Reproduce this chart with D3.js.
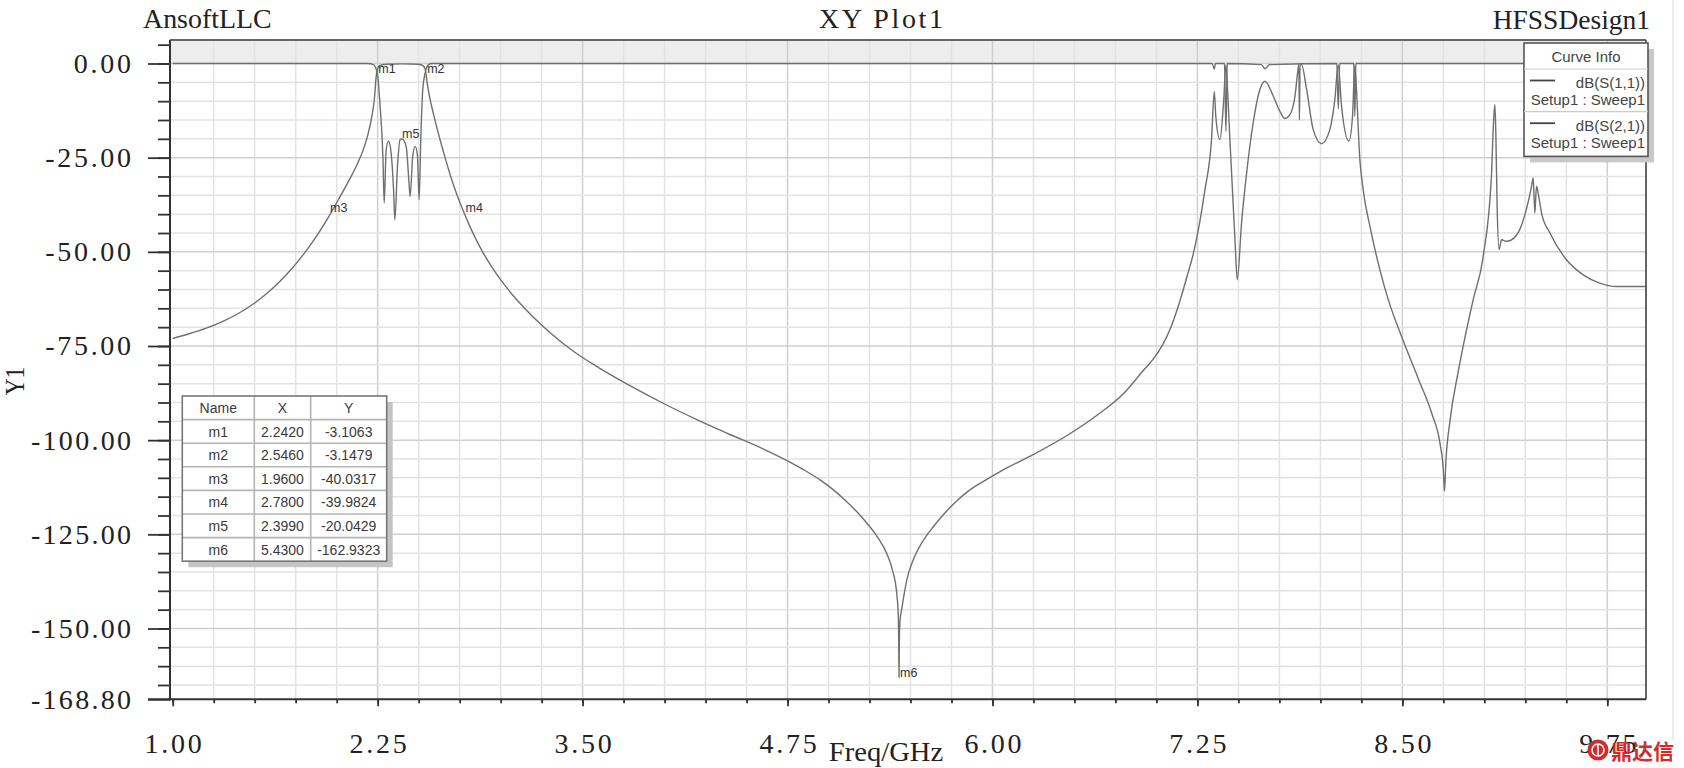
<!DOCTYPE html>
<html><head><meta charset="utf-8">
<script src="https://cdn.jsdelivr.net/npm/d3@7"></script>
<style>body{margin:0;background:#fff;} svg{display:block;}</style>
</head><body>
<svg id="c" width="1684" height="768"></svg>
<script>
// ---------------- data ----------------
const s21Freq = [1.00,1.10,1.20,1.30,1.40,1.50,1.60,1.70,1.80,1.85,1.90,1.96,2.02,2.082,2.13,2.163,2.19,2.215,2.23,2.242,2.25,2.26,2.30,2.40,2.50,2.53,2.54,2.546,2.555,2.57,2.59,2.62,2.66,2.70,2.74,2.78,2.83,2.88,2.94,3.00,3.10,3.20,3.30,3.45,3.60,3.80,4.00,4.20,4.40,4.60,4.75,4.85,4.95,5.03,5.10,5.17,5.233,5.30,5.355,5.39,5.416,5.426,5.428,5.430,5.432,5.436,5.446,5.477,5.51,5.538,5.60,5.639,5.70,5.761,5.85,5.95,6.06,6.25,6.45,6.65,6.80,6.92,6.98,7.04,7.09,7.14,7.19,7.225,7.296,7.336,7.353,7.362,7.387,7.41,7.424,7.435,7.448,7.479,7.493,7.519,7.550,7.590,7.631,7.662,7.713,7.753,7.784,7.814,7.845,7.861,7.869,7.872,7.876,7.885,7.916,7.956,8.007,8.058,8.088,8.109,8.129,8.174,8.196,8.210,8.225,8.237,8.261,8.302,8.363,8.414,8.50,8.60,8.68,8.73,8.75,8.757,8.765,8.79,8.84,8.89,8.932,8.993,9.044,9.054,9.064,9.070,9.078,9.090,9.105,9.135,9.166,9.216,9.261,9.288,9.298,9.308,9.318,9.328,9.349,9.40,9.501,9.603,9.704,9.806,10.0];
const s21dB = [-73.0,-71.76,-70.34,-68.59,-66.37,-63.58,-60.08,-55.77,-50.55,-47.55,-44.29,-40.03,-35.4,-30.5,-26.3,-22.8,-19.0,-14.0,-9.5,-3.1,-1.4,-0.6,-0.2,-0.1,-0.2,-0.7,-1.5,-3.15,-6.0,-9.5,-13.3,-18.5,-24.8,-30.6,-35.6,-39.98,-44.9,-49.2,-53.6,-57.4,-62.8,-67.4,-71.4,-76.6,-80.8,-85.8,-90.4,-94.6,-98.5,-102.3,-105.5,-107.9,-110.6,-113.2,-115.9,-118.9,-122.0,-125.8,-130.1,-134.5,-140.7,-147.0,-153.0,-162.93,-153.0,-148.0,-145.0,-137.2,-132.5,-129.7,-125.2,-123.0,-119.8,-117.0,-113.6,-110.8,-108.0,-103.8,-98.9,-93.0,-87.6,-81.5,-78.5,-74.5,-69.8,-63.5,-56.0,-50.5,-33.5,-20.2,-7.4,-14.0,-20.2,-10.0,-0.3,-8.0,-20.2,-46.8,-57.4,-42.4,-29.1,-15.8,-6.9,-4.7,-8.7,-12.7,-14.6,-13.6,-8.7,-2.5,-0.2,-15.0,-0.3,-0.3,-6.9,-17.5,-21.3,-17.5,-9.6,-0.3,-11.3,-20.6,-14.0,-0.3,-11.3,-22.9,-33.5,-43.2,-54.8,-62.7,-73.0,-84.0,-93.0,-101.0,-108.0,-113.5,-106.0,-95.0,-82.0,-71.0,-62.7,-51.2,-29.1,-17.5,-10.9,-18.4,-37.9,-49.4,-46.8,-47.2,-46.8,-44.1,-37.9,-32.6,-30.4,-39.7,-32.6,-34.4,-39.7,-45.0,-52.1,-56.1,-58.3,-59.2,-59.2];

const s11Freq = [1.00,2.19,2.225,2.249,2.265,2.282,2.290,2.302,2.316,2.330,2.347,2.355,2.371,2.387,2.399,2.424,2.440,2.448,2.464,2.479,2.493,2.503,2.513,2.525,2.540,2.560,2.580,7.34,7.353,7.36,7.415,7.424,7.432,7.64,7.662,7.69,8.100,8.109,8.118,8.204,8.210,8.216,10.0];
const s11dB = [0,0,-0.3,-2.9,-11.3,-24.6,-37.0,-22.9,-20.6,-22.9,-33.5,-41.5,-27.3,-20.2,-20.04,-22.0,-30.8,-35.3,-24.6,-22.0,-24.6,-36.2,-20.2,-6.9,-2.5,-0.3,0,0,-1.5,0,0,-18.0,0,-0.3,-1.4,-0.3,0,-12.0,0,0,-14.0,0,0];

const xTickValues = [1.00,2.25,3.50,4.75,6.00,7.25,8.50,9.75];
const xTickLabels = ["1.00","2.25","3.50","4.75","6.00","7.25","8.50","9.75"];
const yTickValues = [0,-25,-50,-75,-100,-125,-150,-168.8];
const yTickLabels = ["0.00","-25.00","-50.00","-75.00","-100.00","-125.00","-150.00","-168.80"];

const markerNames = ["m1","m2","m3","m4","m5","m6"];
const markerX = [2.2420,2.5460,1.9600,2.7800,2.3990,5.4300];
const markerY = [-3.1063,-3.1479,-40.0317,-39.9824,-20.0429,-162.9323];
const markerXText = ["2.2420","2.5460","1.9600","2.7800","2.3990","5.4300"];
const markerYText = ["-3.1063","-3.1479","-40.0317","-39.9824","-20.0429","-162.9323"];

const legendNames = ["dB(S(1,1))","dB(S(2,1))"];
const legendSetups = ["Setup1 : Sweep1","Setup1 : Sweep1"];

// ---------------- layout ----------------
const svg = d3.select("#c");
const L = 170, R = 1646, T = 40, B = 699.3;
const x = d3.scaleLinear().domain([1, 10]).range([172.7, 1648.3]);
const y = d3.scaleLinear().domain([-168.8, 0]).range([699.3, 63.5]);
const serif = "'Liberation Serif', 'DejaVu Serif', serif";
const sans = "'Liberation Sans', Arial, sans-serif";
const CH = 14.3; // per-character advance of the big labels

// band above 0 dB
svg.append("rect").attr("x", L).attr("y", T).attr("width", R - L).attr("height", y(0) - T).attr("fill", "#ededed");

// grid
const isMajorX = v => Math.abs(((v - 1) / 1.25) - Math.round((v - 1) / 1.25)) < 1e-6;
const gridX = d3.range(1.25, 9.99, 0.25);
svg.append("g").selectAll("line").data(gridX).join("line")
  .attr("x1", d => x(d)).attr("x2", d => x(d)).attr("y1", T).attr("y2", B)
  .attr("stroke", d => isMajorX(d) ? "#cfcfcf" : "#e3e3e3").attr("stroke-width", 1.5);
const gridY = d3.range(0, -168, -5);
svg.append("g").selectAll("line").data(gridY).join("line")
  .attr("x1", L).attr("x2", R).attr("y1", d => y(d)).attr("y2", d => y(d))
  .attr("stroke", d => d % 25 === 0 ? "#cfcfcf" : "#e3e3e3").attr("stroke-width", 1.5);

// curves
svg.append("clipPath").attr("id", "clip").append("rect").attr("x", L).attr("y", T).attr("width", R - L).attr("height", B - T);
const line = d3.line().x(d => x(d[0])).y(d => y(d[1])).curve(d3.curveMonotoneX);
const s11 = d3.zip(s11Freq, s11dB);
const s21 = d3.zip(s21Freq, s21dB);
const gc = svg.append("g").attr("clip-path", "url(#clip)");
gc.append("path").datum(s21).attr("d", line).attr("fill", "none").attr("stroke", "#6f6f6f").attr("stroke-width", 1.4);
gc.append("path").datum(s11).attr("d", line).attr("fill", "none").attr("stroke", "#6f6f6f").attr("stroke-width", 1.4);

// frame
svg.append("line").attr("x1", L).attr("x2", R).attr("y1", T).attr("y2", T).attr("stroke", "#666").attr("stroke-width", 2);
svg.append("line").attr("x1", R).attr("x2", R).attr("y1", T).attr("y2", B).attr("stroke", "#555").attr("stroke-width", 1.8);

// axes
function styleAxis(g) { g.select(".domain").remove(); g.selectAll(".tick line").attr("stroke", "#333").attr("stroke-width", 1.8); }
const gyMinor = svg.append("g").attr("transform", `translate(${L},0)`)
  .call(d3.axisLeft(y).tickValues(d3.range(5, -168, -5)).tickSize(12).tickFormat(""));
styleAxis(gyMinor);
const gy = svg.append("g").attr("transform", `translate(${L},0)`)
  .call(d3.axisLeft(y).tickValues(yTickValues).tickSize(22).tickPadding(17).tickFormat((d, i) => yTickLabels[i]));
styleAxis(gy);
gy.selectAll("text").attr("font-family", serif).attr("font-size", 28).attr("fill", "#222")
  .attr("dy", "0.32em")
  .attr("textLength", (d, i) => yTickLabels[i].length * CH).attr("lengthAdjust", "spacing");

const gxMinor = svg.append("g").attr("transform", `translate(0,${B})`)
  .call(d3.axisBottom(x).tickValues(d3.range(1, 9.99, 0.25)).tickSize(4).tickFormat(""));
styleAxis(gxMinor);
const gx = svg.append("g").attr("transform", `translate(0,${B})`)
  .call(d3.axisBottom(x).tickValues(xTickValues).tickSize(7).tickPadding(27).tickFormat((d, i) => xTickLabels[i]));
styleAxis(gx);
gx.selectAll("text").attr("font-family", serif).attr("font-size", 28).attr("fill", "#222")
  .attr("textLength", (d, i) => xTickLabels[i].length * CH).attr("lengthAdjust", "spacing");

svg.append("line").attr("x1", L).attr("x2", L).attr("y1", T).attr("y2", B + 1).attr("stroke", "#333").attr("stroke-width", 2);
svg.append("line").attr("x1", L - 22).attr("x2", R).attr("y1", B).attr("y2", B).attr("stroke", "#333").attr("stroke-width", 2);

// titles
function bigText(txt, xx, yy, anchor, len, adj) {
  return svg.append("text").attr("x", xx).attr("y", yy).attr("text-anchor", anchor)
    .attr("font-family", serif).attr("font-size", 28).attr("fill", "#222")
    .attr("textLength", len || txt.length * CH).attr("lengthAdjust", adj || "spacingAndGlyphs").text(txt);
}
bigText("AnsoftLLC", 143, 28, "start");
bigText("XY Plot1", 881, 28, "middle", 124, "spacing");
bigText("HFSSDesign1", 1650, 29, "end");
bigText("Freq/GHz", 886, 761, "middle");
svg.append("text").attr("transform", "translate(24,381) rotate(-90)").attr("text-anchor", "middle")
  .attr("font-family", serif).attr("font-size", 28).attr("fill", "#222")
  .attr("textLength", 2 * CH).attr("lengthAdjust", "spacingAndGlyphs").text("Y1");

// marker labels
const mOff = [[2,-2],[1,-2],[0,-2],[1,-2],[0,-1],[1,0]];
svg.append("g").selectAll("text").data(markerNames).join("text")
  .attr("x", (d, i) => x(markerX[i]) + mOff[i][0]).attr("y", (d, i) => y(markerY[i]) + mOff[i][1])
  .attr("font-family", sans).attr("font-size", 12.5).attr("fill", "#333").text(d => d);

// marker table
const tX = [182.3, 254.3, 310.7, 386.7], tTop = 396, rowH = 23.6, nRows = 7;
const tB = tTop + rowH * nRows;
const tg = svg.append("g");
tg.append("rect").attr("x", tX[0] + 6).attr("y", tTop + 6).attr("width", tX[3] - tX[0]).attr("height", tB - tTop).attr("fill", "#c4c4c4");
tg.append("rect").attr("x", tX[0]).attr("y", tTop).attr("width", tX[3] - tX[0]).attr("height", tB - tTop).attr("fill", "#fff");
for (let r = 1; r < nRows; r++) tg.append("line").attr("x1", tX[0]).attr("x2", tX[3]).attr("y1", tTop + r * rowH).attr("y2", tTop + r * rowH).attr("stroke", "#b5b5b5").attr("stroke-width", 1.6);
[tX[1], tX[2]].forEach(cx => tg.append("line").attr("x1", cx).attr("x2", cx).attr("y1", tTop).attr("y2", tB).attr("stroke", "#b5b5b5").attr("stroke-width", 1.6));
tg.append("rect").attr("x", tX[0]).attr("y", tTop).attr("width", tX[3] - tX[0]).attr("height", tB - tTop).attr("fill", "none").attr("stroke", "#777").attr("stroke-width", 1.6);
const rows = [["Name", "X", "Y"]].concat(markerNames.map((m, i) => [m, markerXText[i], markerYText[i]]));
rows.forEach((row, r) => row.forEach((cell, c) => {
  tg.append("text").attr("x", (tX[c] + tX[c + 1]) / 2).attr("y", tTop + r * rowH + 17).attr("text-anchor", "middle")
    .attr("font-family", sans).attr("font-size", 14).attr("fill", "#3a3a3a").text(cell);
}));

// legend
const lg = svg.append("g");
const lx0 = 1524, lx1 = 1648, ly0 = 43, ly1 = 156.4;
lg.append("rect").attr("x", lx0 + 6).attr("y", ly0 + 6).attr("width", lx1 - lx0).attr("height", ly1 - ly0).attr("fill", "#c8c8c8");
lg.append("rect").attr("x", lx0).attr("y", ly0).attr("width", lx1 - lx0).attr("height", ly1 - ly0).attr("fill", "#fff").attr("stroke", "#555").attr("stroke-width", 1.6);
lg.append("text").attr("x", (lx0 + lx1) / 2).attr("y", 62).attr("text-anchor", "middle").attr("font-family", sans).attr("font-size", 15).attr("fill", "#444").text("Curve Info");
[69, 111.7].forEach(yy => lg.append("line").attr("x1", lx0).attr("x2", lx1).attr("y1", yy).attr("y2", yy).attr("stroke", "#ccc").attr("stroke-width", 1.2));
legendNames.forEach((nm, i) => {
  const base = 69 + i * 42.7;
  lg.append("line").attr("x1", 1530).attr("x2", 1555).attr("y1", base + 11.5).attr("y2", base + 11.5).attr("stroke", "#444").attr("stroke-width", 1.8);
  lg.append("text").attr("x", 1645).attr("y", base + 19).attr("text-anchor", "end").attr("font-family", sans).attr("font-size", 15).attr("fill", "#444").text(nm);
  lg.append("text").attr("x", 1645).attr("y", base + 36).attr("text-anchor", "end").attr("font-family", sans).attr("font-size", 15).attr("fill", "#444").text(legendSetups[i]);
});

// page edge line and watermark
svg.append("line").attr("x1", 1673).attr("x2", 1673).attr("y1", 0).attr("y2", 740).attr("stroke", "#e2e2e2").attr("stroke-width", 1.5);
const wm = svg.append("g");
wm.append("circle").attr("cx", 1598).attr("cy", 750).attr("r", 10.5).attr("fill", "#d42a2a");
wm.append("circle").attr("cx", 1598).attr("cy", 750).attr("r", 6).attr("fill", "none").attr("stroke", "#fff").attr("stroke-width", 1.6);
wm.append("line").attr("x1", 1598).attr("x2", 1598).attr("y1", 744).attr("y2", 756).attr("stroke", "#fff").attr("stroke-width", 1.6);
wm.append("text").attr("x", 1611).attr("y", 759).attr("font-family", "'Noto Sans CJK SC', sans-serif").attr("font-weight", "bold").attr("font-size", 21).attr("fill", "#d42a2a").text("鼎达信");
</script>
</body></html>
